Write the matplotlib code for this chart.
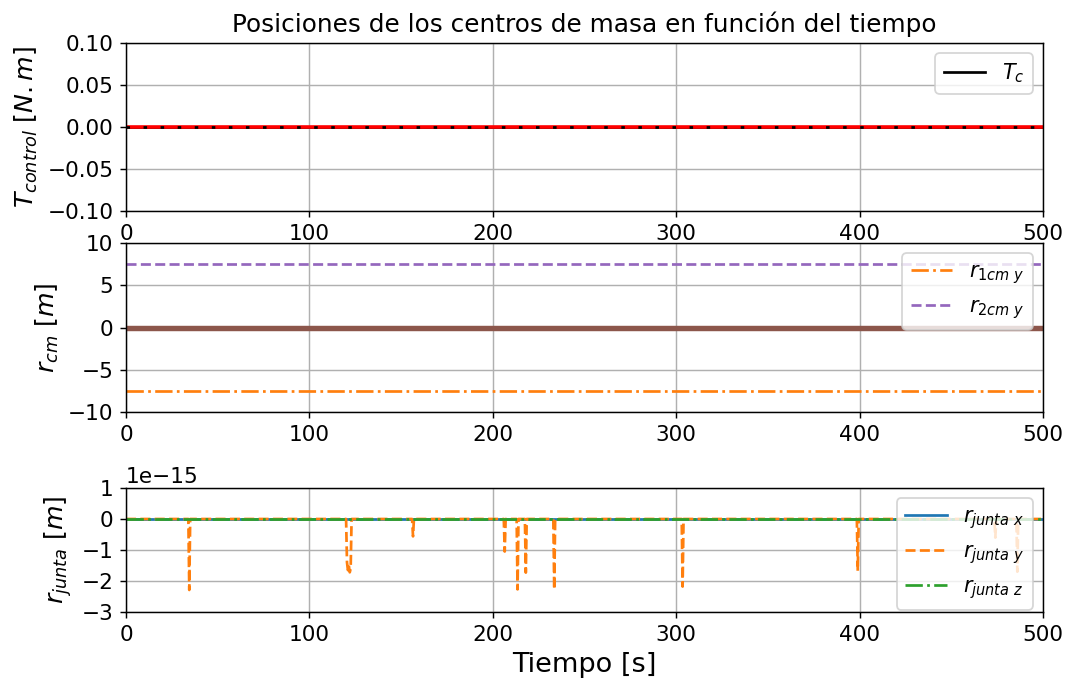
import matplotlib
matplotlib.use('Agg')
import matplotlib.pyplot as plt
import numpy as np

# time axis and constant signals
t_end = 500.0
dt = 0.5
tc_val = 0.0
r1cm_y = -7.5
r2cm_y = 7.5
rcm_x = 0.0

# spikes in r_junta y (time [s], value x1e-15)
spike_t = [34.5, 120.5, 121.0, 121.5, 122.0, 122.5, 156.5, 206.5, 213.5, 218.0,
           233.5, 303.5, 399.0, 474.0, 486.0]
spike_v = [-2.29, -1.4, -1.65, -1.5, -1.72, -1.6, -0.56, -1.05, -2.27, -1.73,
           -2.27, -2.18, -1.67, -0.6, -1.7]

t = np.arange(0, t_end + dt, dt)
n = len(t)
Tc = np.full(n, tc_val)
r1 = np.full(n, r1cm_y)
r2 = np.full(n, r2cm_y)
rx = np.full(n, rcm_x)

jx = np.zeros(n)
jy = np.zeros(n)
jz = np.zeros(n)
for ts, v in zip(spike_t, spike_v):
    jy[int(round(ts / dt))] = v * 1e-15

plt.rcParams['xtick.labelsize'] = 12
plt.rcParams['ytick.labelsize'] = 12
plt.rcParams['legend.fontsize'] = 11.5

fig = plt.figure(figsize=(1066 / 130, 682 / 130), dpi=130)
W, H = 1066.0, 682.0


def box(x0, y0, x1, y1):
    return [x0 / W, 1 - y1 / H, (x1 - x0) / W, (y1 - y0) / H]


ax1 = fig.add_axes(box(126, 43, 1043, 211))
ax2 = fig.add_axes(box(126, 243, 1043, 412))
ax3 = fig.add_axes(box(126, 488, 1043, 612))

# top: control torque
ax1.plot(t, Tc, 'k', label='$T_c$')
ax1.plot(t, Tc, color='red', linewidth=2)
ax1.plot(t, Tc, color='k', linestyle=(0, (1.3, 5.0)), linewidth=1.5)
ax1.set_xlim(0, 500)
ax1.set_ylim(-0.1, 0.1)
ax1.set_yticks([-0.1, -0.05, 0, 0.05, 0.1])
ax1.set_title('Posiciones de los centros de masa en función del tiempo', fontsize=13.7)
ax1.set_ylabel(r'$T_{control}\ [N.m]$', fontsize=14)
ax1.grid(True)
ax1.legend(loc='upper right')

# middle: centres of mass
ax2.plot(t, rx, color='C5', linewidth=3)
ax2.plot(t, r1, '-.', color='C1', label=r'$r_{1cm\ y}$')
ax2.plot(t, r2, '--', color='C4', label=r'$r_{2cm\ y}$')
ax2.set_xlim(0, 500)
ax2.set_ylim(-10, 10)
ax2.set_yticks([-10, -5, 0, 5, 10])
ax2.set_ylabel(r'$r_{cm}\ [m]$', fontsize=14)
ax2.grid(True)
ax2.legend(loc='upper right')

# bottom: joint position
ax3.plot(t, jx, '-', color='C0', label=r'$r_{junta\ x}$')
ax3.plot(t, jy, '--', color='C1', label=r'$r_{junta\ y}$')
ax3.plot(t, jz, '-.', color='C2', label=r'$r_{junta\ z}$')
ax3.set_xlim(0, 500)
ax3.set_ylim(-3e-15, 1e-15)
ax3.set_yticks([-3e-15, -2e-15, -1e-15, 0, 1e-15])
ax3.yaxis.get_offset_text().set_fontsize(12)
ax3.set_ylabel(r'$r_{junta}\ [m]$', fontsize=14)
ax3.set_xlabel('Tiempo [s]', fontsize=15)
ax3.grid(True)
ax3.legend(loc='upper right')

fig.savefig('out.png', dpi=130)
